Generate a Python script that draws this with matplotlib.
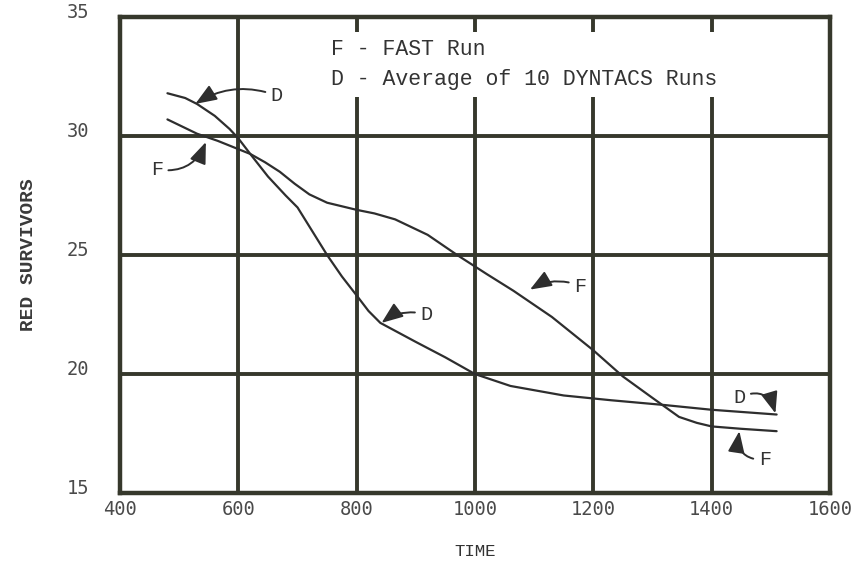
import numpy as np
import matplotlib.pyplot as plt
from matplotlib.transforms import ScaledTranslation

# average of 10 DYNTACS runs
d_time = [480, 510, 530, 560, 585, 600, 620, 650, 680, 700, 725, 750, 775, 800,
          820, 840, 870, 900, 950, 1000, 1060, 1150, 1230, 1320, 1400, 1510]
d_surv = [31.8, 31.6, 31.35, 30.85, 30.3, 29.9, 29.25, 28.3, 27.5, 27.0, 26.0,
          25.0, 24.1, 23.3, 22.65, 22.15, 21.75, 21.35, 20.7, 20.0, 19.5, 19.1,
          18.9, 18.7, 18.5, 18.3]

# FAST run
f_time = [480, 530, 565, 600, 620, 645, 670, 695, 720, 750, 800, 830, 865, 920,
          970, 1020, 1065, 1130, 1200, 1250, 1300, 1345, 1375, 1400, 1450, 1510]
f_surv = [30.7, 30.1, 29.8, 29.45, 29.25, 28.9, 28.5, 28.0, 27.55, 27.2, 26.9,
          26.75, 26.5, 25.85, 25.0, 24.2, 23.5, 22.4, 21.0, 19.9, 19.0, 18.2,
          17.95, 17.8, 17.7, 17.6]

x_ticks = [400, 600, 800, 1000, 1200, 1400, 1600]
y_ticks = [15, 20, 25, 30, 35]

ink = '#36382c'
pen = '#2e2e2e'
typewriter = 'Liberation Mono'

fig = plt.figure(figsize=(8.52, 5.70), dpi=100)
ax = fig.add_axes([0.141, 0.135, 0.833, 0.835])

ax.plot(d_time, d_surv, color=pen, linewidth=1.6, solid_capstyle='round',
        solid_joinstyle='round')
ax.plot(f_time, f_surv, color=pen, linewidth=1.6, solid_capstyle='round',
        solid_joinstyle='round')

ax.set_xlim(400, 1600)
ax.set_ylim(15, 35)
ax.set_xticks(x_ticks)
ax.set_yticks(y_ticks)
ax.grid(True, color=ink, linewidth=2.8)
ax.set_axisbelow(True)
for s in ax.spines.values():
    s.set_color(ink)
    s.set_linewidth(3.2)
ax.tick_params(length=0, labelsize=13.5, labelcolor='#4a4a4a', pad=5)
ax.tick_params(axis='y', pad=22)
for lbl in ax.get_xticklabels() + ax.get_yticklabels():
    lbl.set_family('DejaVu Sans Mono')
for lbl in ax.get_yticklabels():
    lbl.set_transform(lbl.get_transform() + ScaledTranslation(0, 0.07, fig.dpi_scale_trans))

ax.set_xlabel('TIME', family=typewriter, fontsize=12.5, color='#333333', labelpad=18)
fig.text(0.033, 0.553, 'RED SURVIVORS', rotation=90, family=typewriter,
         fontsize=14, fontweight='bold', color='#3a3a3a', ha='center', va='center')

ax.text(757, 33.0, 'F - FAST Run\nD - Average of 10 DYNTACS Runs',
        family=typewriter, fontsize=15.5, color='#333333', linespacing=1.6,
        va='center', ha='left',
        bbox=dict(facecolor='white', edgecolor='none', pad=5))

# hand-drawn style curve labels
arrow = dict(arrowstyle='-|>,head_length=0.9,head_width=0.35', color=pen,
             linewidth=1.4, shrinkA=2, shrinkB=0)
notes = [
    ('D', (527, 31.35), (665, 31.7), 0.25),
    ('F', (545, 29.75), (462, 28.6), 0.4),
    ('D', (842, 22.15), (918, 22.5), 0.25),
    ('F', (1093, 23.55), (1178, 23.7), 0.25),
    ('D', (1508, 18.35), (1447, 19.0), -0.6),
    ('F', (1447, 17.6), (1490, 16.4), -0.6),
]
for name, tip, pos, rad in notes:
    ax.annotate(name, xy=tip, xytext=pos, family=typewriter, fontsize=14.5,
                color='#333333', ha='center', va='center',
                arrowprops=dict(arrow, connectionstyle=f'arc3,rad={rad}'))

fig.savefig('out.png', dpi=100, facecolor='white')
